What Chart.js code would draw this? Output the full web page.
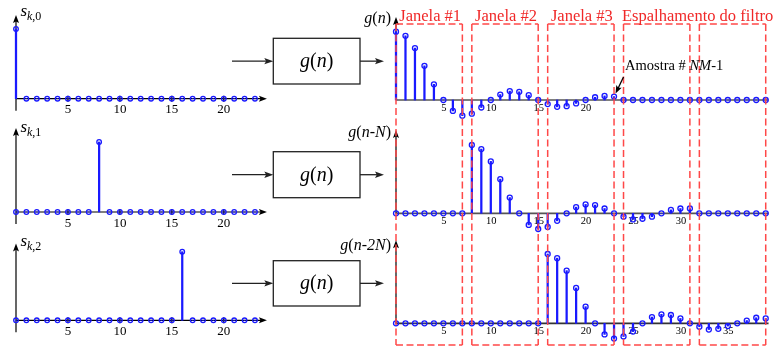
<!DOCTYPE html>
<html>
<head>
<meta charset="utf-8">
<script src="https://cdn.jsdelivr.net/npm/chart.js@4.4.1/dist/chart.umd.min.js"></script>
<style>
  html, body { margin: 0; padding: 0; background: #fff; }
  #stage { position: relative; width: 783px; height: 347px; overflow: hidden; }
  #stage canvas { position: absolute; }
</style>
</head>
<body>
<div id="stage">
  <canvas id="s0" width="395" height="115" style="left:0;top:0;z-index:1"></canvas>
  <canvas id="s1" width="395" height="115" style="left:0;top:115px;z-index:1"></canvas>
  <canvas id="s2" width="395" height="117" style="left:0;top:230px;z-index:1"></canvas>
  <canvas id="g0" width="458" height="120" style="left:325px;top:0;z-index:2"></canvas>
  <canvas id="g1" width="458" height="115" style="left:325px;top:120px;z-index:2"></canvas>
  <canvas id="g2" width="458" height="112" style="left:325px;top:235px;z-index:2"></canvas>
</div>
<script>
// sample indices
const nLeft = [0,1,2,3,4,5,6,7,8,9,10,11,12,13,14,15,16,17,18,19,20,21,22,23];
const nRight = [0,1,2,3,4,5,6,7,8,9,10,11,12,13,14,15,16,17,18,19,
                20,21,22,23,24,25,26,27,28,29,30,31,32,33,34,35,36,37,38,39];

// input impulses s_k,0 / s_k,1 / s_k,2
const sk0 = [1,0,0,0,0,0,0,0, 0,0,0,0,0,0,0,0, 0,0,0,0,0,0,0,0];
const sk1 = [0,0,0,0,0,0,0,0, 1,0,0,0,0,0,0,0, 0,0,0,0,0,0,0,0];
const sk2 = [0,0,0,0,0,0,0,0, 0,0,0,0,0,0,0,0, 1,0,0,0,0,0,0,0];

// filter outputs g(n), g(n-N), g(n-2N)
const gN = [1.00,0.94,0.76,0.50,0.23,0.00,-0.16,-0.23,-0.20,-0.11,0.00,0.08,0.13,0.12,0.07,0.00,
            -0.06,-0.10,-0.09,-0.05,0.00,0.04,0.06,0.05,
            0,0,0,0,0,0,0,0, 0,0,0,0,0,0,0,0];
const gN1 = [0,0,0,0,0,0,0,0,
             1.00,0.94,0.76,0.50,0.23,0.00,-0.17,-0.23,-0.20,-0.11,0.00,0.09,0.13,0.12,0.07,0.00,
             -0.05,-0.09,-0.08,-0.05,0.00,0.05,0.07,0.07,
             0,0,0,0,0,0,0,0];
const gN2 = [0,0,0,0,0,0,0,0, 0,0,0,0,0,0,0,0,
             1.00,0.94,0.76,0.51,0.24,0.00,-0.16,-0.22,-0.19,-0.12,0.00,0.09,0.13,0.12,0.07,0.00,
             -0.05,-0.09,-0.08,-0.04,0.00,0.04,0.08,0.07];

// tick labels
const ticksLeft = [5, 10, 15, 20];
const ticksTop = [5, 10, 15, 20];
const ticksMid = [5, 10, 15, 20, 25, 30];
const ticksBot = [5, 10, 15, 20, 25, 30, 35];

// windows
const windowLen = 8;
const windowCount = 5;
const windowLabels = ["Janela #1", "Janela #2", "Janela #3"];
const spreadLabel = "Espalhamento do filtro";

const FONT = "'Liberation Serif','Times New Roman',serif";
const BLUE = "rgb(25,25,255)";
const RED_LINE = "rgb(255,72,72)";
const RED_TEXT = "rgb(240,40,40)";
const WIN_TOP = 24, WIN_BOTTOM = 345;

function rangeFor(originPx, pxPerUnit, sizePx) {
  const min = -originPx / pxPerUnit;
  return { min: min, max: min + sizePx / pxPerUnit };
}

function arrowHead(ctx, x, y, ang, len, half) {
  ctx.save();
  ctx.translate(x, y);
  ctx.rotate(ang);
  ctx.beginPath();
  ctx.moveTo(0, 0);
  ctx.lineTo(-len, -half);
  ctx.lineTo(-len * 0.8, 0);
  ctx.lineTo(-len, half);
  ctx.closePath();
  ctx.fill();
  ctx.restore();
}

function line(ctx, x1, y1, x2, y2) {
  ctx.beginPath();
  ctx.moveTo(x1, y1);
  ctx.lineTo(x2, y2);
  ctx.stroke();
}

// parts: [text, italic]
function rich(ctx, parts, x, y, size, align, color) {
  ctx.save();
  ctx.fillStyle = color || "#000";
  ctx.textAlign = "left";
  ctx.textBaseline = "alphabetic";
  let total = 0;
  const ws = parts.map(p => {
    ctx.font = (p[1] ? "italic " : "") + size + "px " + FONT;
    const w = ctx.measureText(p[0]).width;
    total += w;
    return w;
  });
  let cx = align === "right" ? x - total : align === "center" ? x - total / 2 : x;
  parts.forEach((p, i) => {
    ctx.font = (p[1] ? "italic " : "") + size + "px " + FONT;
    ctx.fillText(p[0], cx, y);
    cx += ws[i];
  });
  ctx.restore();
}

function makeStem(cfg) {
  const canvas = document.getElementById(cfg.id);
  const W = canvas.width, H = canvas.height;
  const xr = rangeFor(cfg.ox, cfg.dx, W);
  const yr = rangeFor(H - cfg.base, cfg.unit, H);
  const pts = cfg.xs.map((x, i) => ({ x: x, y: cfg.ys[i] }));
  return new Chart(canvas, {
    type: "scatter",
    data: {
      datasets: [
        { type: "bar", data: pts, backgroundColor: BLUE, borderWidth: 0,
          barThickness: 1.6, order: 2, clip: false },
        { type: "scatter", data: pts, pointRadius: cfg.r, pointHoverRadius: cfg.r,
          pointBorderWidth: 1.3, pointBorderColor: BLUE,
          pointBackgroundColor: "rgba(255,255,255,0)", order: 1, clip: false }
      ]
    },
    options: {
      responsive: false,
      animation: false,
      events: [],
      layout: { padding: 0, autoPadding: false },
      plugins: { legend: { display: false }, tooltip: { enabled: false } },
      scales: {
        x: { type: "linear", display: false, min: xr.min, max: xr.max, offset: false },
        y: { type: "linear", display: false, min: yr.min, max: yr.max }
      }
    },
    plugins: [{ id: "deco_" + cfg.id, beforeDatasetsDraw: cfg.under, afterDatasetsDraw: cfg.over }]
  });
}

// ---------- left side: impulses + filter boxes ----------
function leftChart(id, ys, base, unit, yTip, sub, labY, box) {
  makeStem({
    id: id, xs: nLeft, ys: ys, ox: 16, dx: 10.39, base: base, unit: unit, r: 2.3,
    under: chart => {
      const ctx = chart.ctx, xs = chart.scales.x, yv = chart.scales.y;
      const x0 = xs.getPixelForValue(0), y0 = yv.getPixelForValue(0);
      const xt = xs.getPixelForValue(24.15), yt = yv.getPixelForValue(yTip);
      ctx.save();
      ctx.strokeStyle = "#000"; ctx.fillStyle = "#000"; ctx.lineWidth = 1.2;
      line(ctx, x0, y0, xt - 5, y0);
      arrowHead(ctx, xt, y0, 0, 8, 3);
      line(ctx, x0, y0 + 12, x0, yt + 5);
      arrowHead(ctx, x0, yt, -Math.PI / 2, 8, 3);
      ctx.font = "13px " + FONT;
      ctx.textAlign = "center"; ctx.textBaseline = "alphabetic";
      ticksLeft.forEach(t => {
        const px = xs.getPixelForValue(t);
        line(ctx, px, y0 - 3, px, y0 + 3);
        ctx.fillText(String(t), px, y0 + 14.6);
      });
      ctx.restore();
    },
    over: chart => {
      const ctx = chart.ctx;
      const x0 = chart.scales.x.getPixelForValue(0);
      rich(ctx, [["s", true]], x0 + 4.5, labY, 17, "left");
      rich(ctx, [["k", true], [",", false], [sub, false]], x0 + 11, labY + 4, 12, "left");
      // filter block
      ctx.save();
      ctx.strokeStyle = "#222"; ctx.fillStyle = "#222"; ctx.lineWidth = 1.3;
      ctx.strokeRect(273.3, box.y, 86.7, box.h);
      const ay = box.y + box.h / 2;
      line(ctx, 232, ay, 268, ay);
      arrowHead(ctx, 273.3, ay, 0, 9, 3.2);
      line(ctx, 360, ay, 378, ay);
      arrowHead(ctx, 384, ay, 0, 9, 3.2);
      ctx.restore();
      rich(ctx, [["g", true], ["(", false], ["n", true], [")", false]], 316.7, ay + 6, 20, "center");
    }
  });
}

leftChart("s0", sk0, 98.7, 69.7, 1.20, "0", 16, { y: 38.3, h: 45.7 });
leftChart("s1", sk1, 97.0, 70.0, 1.20, "1", 16.5, { y: 36.7, h: 46 });
leftChart("s2", sk2, 90.3, 68.6, 1.12, "2", 15.5, { y: 30.7, h: 45.3 });

// ---------- right side: filter outputs + windows ----------
function rightChart(id, top, ys, base, unit, yTip, ticks, axisColor, label, labY, isTop) {
  makeStem({
    id: id, xs: nRight, ys: ys, ox: 71, dx: 9.48, base: base, unit: unit, r: 2.5,
    under: chart => {
      const ctx = chart.ctx, xs = chart.scales.x, yv = chart.scales.y;
      const x0 = xs.getPixelForValue(0), y0 = yv.getPixelForValue(0);
      const yt = yv.getPixelForValue(yTip);
      ctx.save();
      ctx.strokeStyle = axisColor; ctx.lineWidth = 1.7;
      line(ctx, x0, y0, xs.getPixelForValue(39.3), y0);
      ctx.strokeStyle = "#000"; ctx.fillStyle = "#000"; ctx.lineWidth = 1.2;
      line(ctx, x0, y0, x0, yt + 5);
      arrowHead(ctx, x0, yt, -Math.PI / 2, 8, 3);
      ctx.font = "10.5px " + FONT;
      ctx.textAlign = "center"; ctx.textBaseline = "alphabetic";
      ticks.forEach(t => ctx.fillText(String(t), xs.getPixelForValue(t) + 0.5, y0 + 11));
      ctx.restore();
    },
    over: chart => {
      const ctx = chart.ctx, xs = chart.scales.x, yv = chart.scales.y;
      const H = chart.height;
      rich(ctx, label, 66, labY, 16, "right");
      // dashed windows
      const gTop = Math.max(WIN_TOP, top), gBot = Math.min(WIN_BOTTOM, top + H);
      ctx.save();
      ctx.strokeStyle = RED_LINE; ctx.lineWidth = 1.5;
      ctx.setLineDash([7, 3.5]);
      const edges = [];
      for (let k = 0; k < windowCount; k++) {
        const xl = xs.getPixelForValue(k * windowLen);
        const xr = xs.getPixelForValue(k * windowLen + windowLen - 1);
        edges.push([xl, xr]);
        ctx.lineDashOffset = gTop - WIN_TOP;
        line(ctx, xl, gTop - top, xl, gBot - top);
        line(ctx, xr, gTop - top, xr, gBot - top);
        ctx.lineDashOffset = 0;
        if (WIN_TOP >= top && WIN_TOP <= top + H) line(ctx, xl, WIN_TOP - top, xr, WIN_TOP - top);
        if (WIN_BOTTOM >= top && WIN_BOTTOM <= top + H) line(ctx, xl, WIN_BOTTOM - top, xr, WIN_BOTTOM - top);
      }
      ctx.restore();
      if (isTop) {
        ctx.save();
        ctx.fillStyle = RED_TEXT;
        ctx.font = "16.5px " + FONT;
        ctx.textAlign = "center"; ctx.textBaseline = "alphabetic";
        windowLabels.forEach((s, k) => ctx.fillText(s, (edges[k][0] + edges[k][1]) / 2 + 1, 20.5));
        ctx.fillText(spreadLabel, (edges[3][0] + edges[4][1]) / 2 + 3, 20.5);
        ctx.restore();
        // annotation: last useful sample
        const last = windowLen * 3 - 1;
        const tx = xs.getPixelForValue(last) + 1.5, ty = yv.getPixelForValue(ys[last]) - 3;
        const sx = 623.5 - 325, sy = 77;
        const ang = Math.atan2(ty - sy, tx - sx);
        ctx.save();
        ctx.strokeStyle = "#000"; ctx.fillStyle = "#000"; ctx.lineWidth = 1.3;
        line(ctx, sx, sy, tx - 6 * Math.cos(ang), ty - 6 * Math.sin(ang));
        arrowHead(ctx, tx, ty, ang, 8, 3);
        ctx.restore();
        rich(ctx, [["Amostra # ", false], ["NM", true], ["-1", false]], 625 - 325, 69.5, 14.5, "left");
      }
    }
  });
}

rightChart("g0", 0, gN, 100, 68.3, 1.215, ticksTop, "#555",
  [["g", true], ["(", false], ["n", true], [")", false]], 23, true);
rightChart("g1", 120, gN1, 93.3, 68.3, 1.22, ticksMid, "#555",
  [["g", true], ["(", false], ["n", true], ["-", false], ["N", true], [")", false]], 17, false);
rightChart("g2", 235, gN2, 88.3, 69.3, 1.20, ticksBot, "#333",
  [["g", true], ["(", false], ["n", true], ["-", false], ["2N", true], [")", false]], 15, false);
</script>
</body>
</html>
